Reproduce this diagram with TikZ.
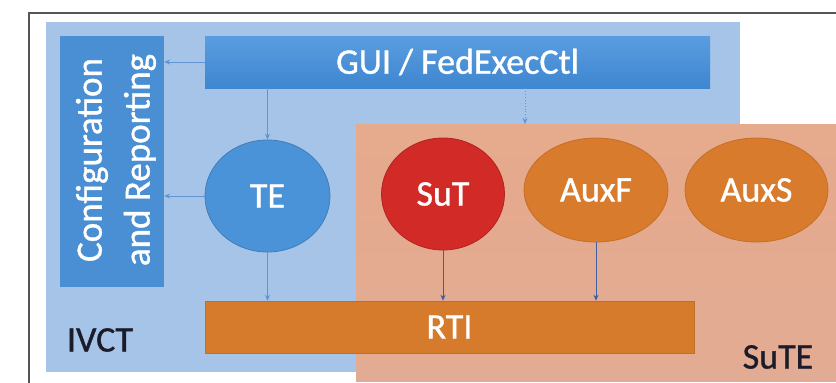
\documentclass[tikz,border=0pt]{standalone}
\usepackage{fontspec}
\setmainfont[FakeBold=0.8]{Carlito}
\newfontfamily\heavyface[FakeBold=1.0]{Carlito}
\usetikzlibrary{arrows.meta,shapes.geometric}

\definecolor{ivctbg}{HTML}{A6C4E8}
\definecolor{cfgblue}{HTML}{4A8FD4}
\definecolor{guiTop}{HTML}{5A9DE0}
\definecolor{guiBot}{HTML}{3F86D0}
\definecolor{teblue}{HTML}{4B93D8}
\definecolor{sutebg}{HTML}{E6AA8C}
\definecolor{sutebgB}{HTML}{E2AB93}
\definecolor{sutred}{HTML}{D12A27}
\definecolor{auxorange}{HTML}{D97B2D}
\definecolor{rtiorange}{HTML}{D67A2C}
\definecolor{lightarrow}{HTML}{6293D2}
\definecolor{darkarrow}{HTML}{3C5DA8}
\definecolor{labeldark}{HTML}{1B1B2A}
\definecolor{framegray}{HTML}{555555}

\tikzset{
  area/.style={rectangle, inner sep=0pt, draw=none},
  bar/.style={rectangle, inner sep=0pt, text=white,
    font=\heavyface\fontsize{36}{44}\selectfont},
  blob/.style={ellipse, inner sep=0pt, text=white,
    font=\heavyface\fontsize{36}{44}\selectfont},
  tag/.style={inner sep=0pt, text=labeldark,
    font=\heavyface\fontsize{36}{44}\selectfont},
  flow/.style={-{Stealth[length=6pt,width=5pt]}, line width=0.9pt},
}

\begin{document}
\begin{tikzpicture}[x=1pt, y=-1pt]
  \useasboundingbox (0,0) rectangle (836,383);
  \clip (0,0) rectangle (836,383);

  % outer frame (top and left edges)
  \draw[framegray, line width=1.2pt] (29,383) -- (29,13) -- (836,13);

  % IVCT and SuTE areas
  \node[area, fill=ivctbg, minimum width=694pt, minimum height=350pt]
    (ivct) at (393,197) {};
  \node[area, top color=sutebg, bottom color=sutebgB,
    minimum width=480pt, minimum height=257pt] (sute) at (596,252.5) {};

  % blocks
  \node[bar, fill=cfgblue, minimum width=104pt, minimum height=251pt]
    (config) at (112,161.5) {};
  \node[text=white, rotate=90, align=center, inner sep=0pt,
    font=\heavyface\fontsize{37}{48}\selectfont] (configtext) at (116,160)
    {Configuration\\and Reporting};
  \node[bar, top color=guiTop, bottom color=guiBot,
    minimum width=505pt, minimum height=52pt] (gui) at (457.5,62)
    {GUI / FedExecCtl};
  \node[bar, fill=rtiorange, draw=rtiorange!90!black, line width=0.5pt,
    minimum width=489pt, minimum height=52pt] (rti) at (449.5,327) {RTI};

  % federates
  \node[blob, fill=teblue, draw=teblue!85!black, line width=0.8pt,
    minimum width=125pt, minimum height=112pt] (te) at (267.5,196) {TE};
  \node[blob, fill=sutred, draw=sutred!85!black, line width=0.8pt,
    minimum width=123pt, minimum height=112pt] (sut) at (443,194) {SuT};
  \node[blob, fill=auxorange, draw=auxorange!90!black, line width=0.8pt,
    minimum width=144pt, minimum height=104pt] (auxf) at (596,190) {AuxF};
  \node[blob, fill=auxorange, draw=auxorange!90!black, line width=0.8pt,
    minimum width=143pt, minimum height=104pt] (auxs) at (756.5,190) {AuxS};

  % area labels
  \node[tag] (ivctlabel) at (100,340) {IVCT};
  \node[tag] (sutelabel) at (778,357) {SuTE};

  % connectors
  \coordinate (sutetop) at (525,124);
  \draw[flow, lightarrow] (gui.west) -- (config.east |- gui.west);
  \draw[flow, lightarrow] (te.west) -- (config.east |- te.west);
  \draw[flow, lightarrow] (gui.south -| te.north) -- (te.north);
  \draw[flow, lightarrow, dotted] (gui.south -| sutetop) -- (sutetop);
  \draw[flow, lightarrow] (te.south) -- (te.south |- rti.north);
  \draw[flow, darkarrow] (sut.south) -- (sut.south |- rti.north);
  \draw[flow, darkarrow] (auxf.south) -- (auxf.south |- rti.north);
\end{tikzpicture}
\end{document}
